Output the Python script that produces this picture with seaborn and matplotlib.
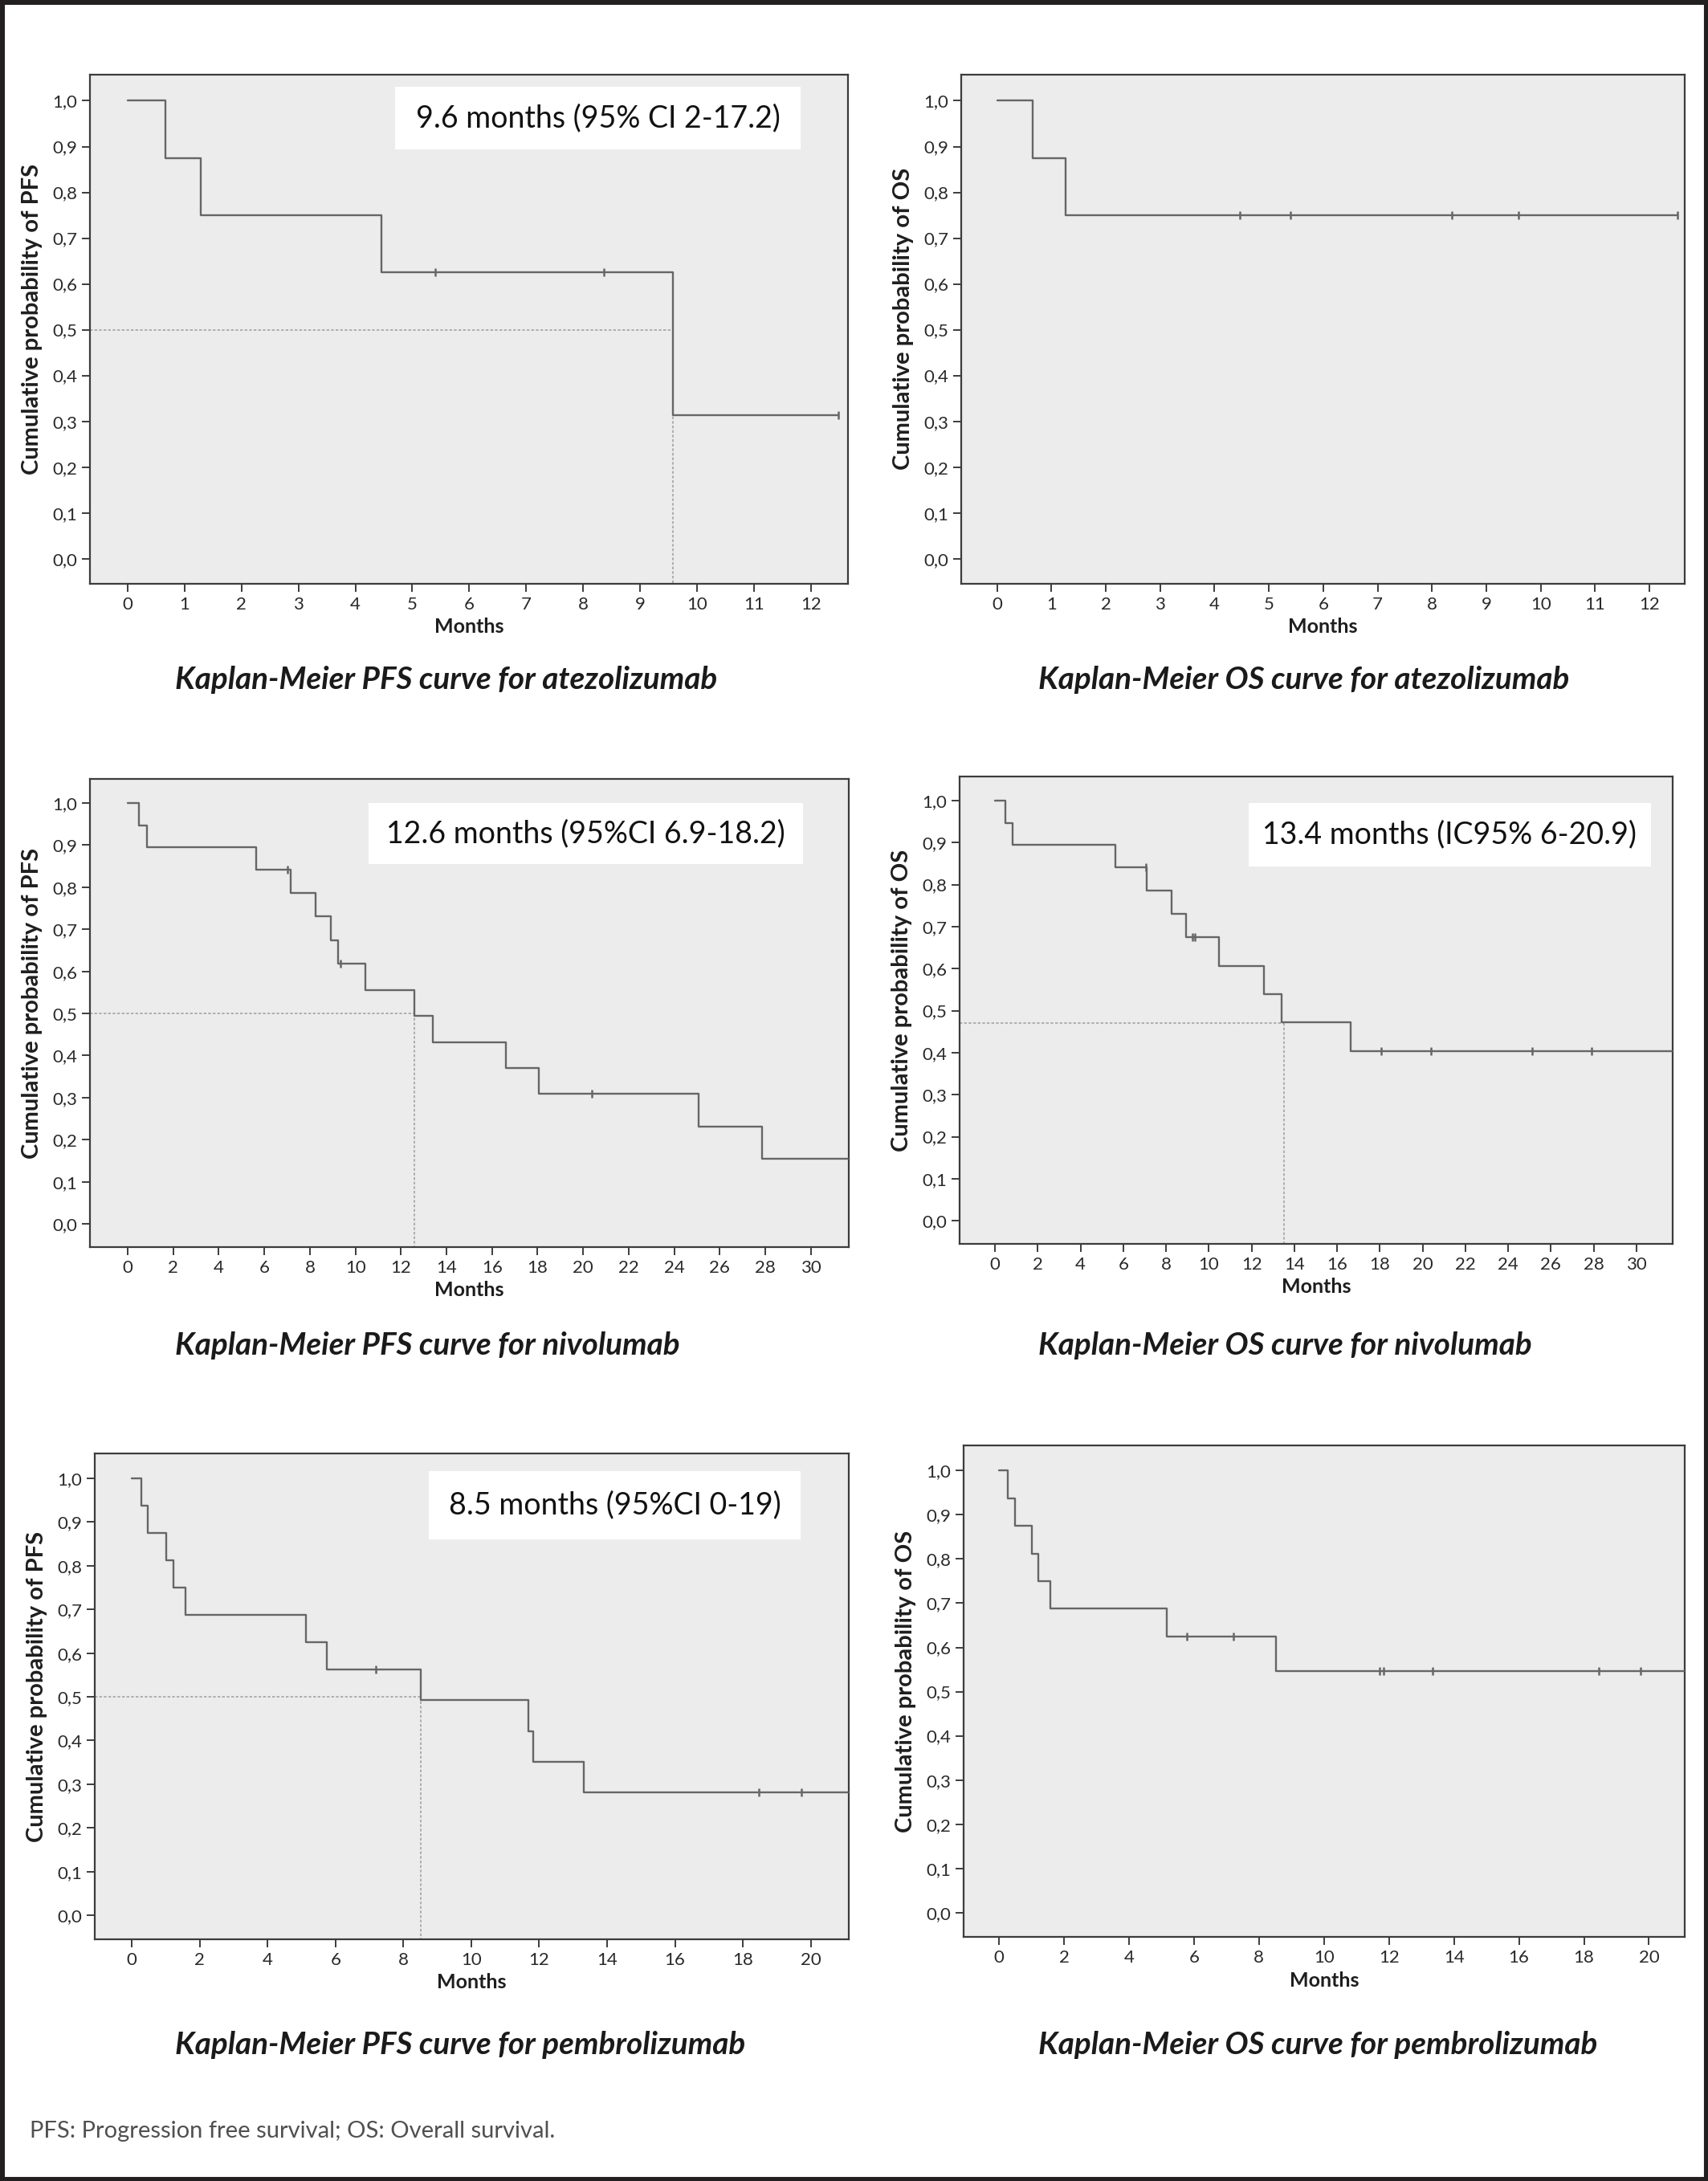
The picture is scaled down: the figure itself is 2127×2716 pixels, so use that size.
import matplotlib
matplotlib.use('Agg')
import matplotlib.pyplot as plt
from matplotlib.patches import Rectangle
import numpy as np
import pandas as pd
import seaborn as sns

# Datos (tiempo en meses, supervivencia acumulada)
y_ticks = [0.0, 0.1, 0.2, 0.3, 0.4, 0.5, 0.6, 0.7, 0.8, 0.9, 1.0]
y_tick_labels = ['0,0', '0,1', '0,2', '0,3', '0,4', '0,5', '0,6', '0,7', '0,8', '0,9', '1,0']

# atezolizumab
atezo_pfs_t = [0, 0.67, 1.28, 4.46, 9.58, 12.48]
atezo_pfs_s = [1.0, 0.875, 0.75, 0.625, 0.3125, 0.3125]
atezo_pfs_cens = [5.40, 8.36, 12.48]
atezo_pfs_median = 9.58

atezo_os_t = [0, 0.66, 1.26, 12.51]
atezo_os_s = [1.0, 0.875, 0.75, 0.75]
atezo_os_cens = [4.46, 5.40, 8.37, 9.59, 12.51]

# nivolumab
nivo_pfs_t = [0, 0.49, 0.85, 5.64, 7.14, 8.26, 8.91, 9.23, 10.44, 12.58, 13.41, 16.61, 18.05, 25.07, 27.86, 32.0]
nivo_pfs_s = [1.0, 0.947, 0.895, 0.842, 0.786, 0.730, 0.674, 0.618, 0.556, 0.494, 0.432, 0.371, 0.309, 0.232, 0.155, 0.155]
nivo_pfs_cens = [7.02, 9.33, 20.40]
nivo_pfs_median = 12.58

nivo_os_t = [0, 0.48, 0.83, 5.62, 7.10, 8.25, 8.93, 10.46, 12.59, 13.42, 16.65, 32.0]
nivo_os_s = [1.0, 0.947, 0.895, 0.842, 0.786, 0.730, 0.674, 0.607, 0.539, 0.472, 0.404, 0.404]
nivo_os_cens = [7.05, 9.23, 9.33, 18.06, 20.39, 25.11, 27.89]
nivo_os_median = 13.5
nivo_os_median_level = 0.471

# pembrolizumab
pembro_pfs_t = [0, 0.28, 0.47, 1.01, 1.22, 1.58, 5.13, 5.74, 8.52, 11.69, 11.83, 13.32, 21.5]
pembro_pfs_s = [1.0, 0.9375, 0.875, 0.8125, 0.75, 0.6875, 0.625, 0.5625, 0.492, 0.421, 0.351, 0.281, 0.281]
pembro_pfs_cens = [7.20, 18.47, 19.72]
pembro_pfs_median = 8.52

pembro_os_t = [0, 0.28, 0.50, 1.02, 1.22, 1.59, 5.16, 8.53, 21.5]
pembro_os_s = [1.0, 0.9375, 0.875, 0.8125, 0.75, 0.6875, 0.625, 0.547, 0.547]
pembro_os_cens = [5.77, 7.22, 11.72, 11.83, 13.34, 18.46, 19.75]

titles = [
    'Kaplan-Meier PFS curve for atezolizumab', 'Kaplan-Meier OS curve for atezolizumab',
    'Kaplan-Meier PFS curve for nivolumab', 'Kaplan-Meier OS curve for nivolumab',
    'Kaplan-Meier PFS curve for pembrolizumab', 'Kaplan-Meier OS curve for pembrolizumab',
]
notes = ['9.6 months (95% CI 2-17.2)', None, '12.6 months (95%CI 6.9-18.2)',
         '13.4 months (IC95% 6-20.9)', '8.5 months (95%CI 0-19)', None]
footnote = 'PFS: Progression free survival; OS: Overall survival.'

# Estilo
sns.set_theme(style='white')
plt.rcParams['font.family'] = ['Lato', 'DejaVu Sans']

W, H = 2127, 2716
line_col = '#666666'
dash_col = '#a3a3a3'
spine_col = '#3c3c3c'
ylim = (-0.055, 1.057)

fig = plt.figure(figsize=(W / 200, H / 200), dpi=200)
fig.patch.set_facecolor('white')


def px_axes(x0, y0, x1, y1):
    # caja en pixeles de la imagen -> fraccion de figura
    return fig.add_axes([x0 / W, 1 - y1 / H, (x1 - x0) / W, (y1 - y0) / H])


def draw_km(ax, t, s, cens, xlim, xticks, ylabel, median=None, level=0.5, note=None, note_box=None):
    ax.set_facecolor('#ececec')
    df = pd.DataFrame({'t': t, 's': s})
    sns.lineplot(data=df, x='t', y='s', drawstyle='steps-post', color=line_col,
                 linewidth=0.85, estimator=None, ax=ax, zorder=3)
    cy = [s[np.searchsorted(t, c, side='right') - 1] for c in cens]
    sns.scatterplot(x=cens, y=cy, marker='|', s=14, color=line_col, linewidth=0.9,
                    ax=ax, zorder=4)
    if median is not None:
        ax.plot([xlim[0], median], [level, level], color=dash_col, lw=0.6,
                dashes=(2, 1.4), zorder=2)
        ax.plot([median, median], [level, ylim[0]], color=dash_col, lw=0.6,
                dashes=(2, 1.4), zorder=2)
    ax.set_xlim(xlim)
    ax.set_ylim(ylim)
    ax.set_xticks(xticks)
    ax.set_xticklabels([str(v) for v in xticks])
    ax.set_yticks(y_ticks)
    ax.set_yticklabels(y_tick_labels)
    ax.tick_params(axis='both', which='major', direction='out', length=3.6, width=0.7,
                   color=spine_col, labelsize=8, labelcolor='#2a2a2a', pad=2)
    ax.tick_params(bottom=True, left=True)
    for sp in ax.spines.values():
        sp.set_color(spine_col)
        sp.set_linewidth(0.8)
    bb = ax.get_position()
    wpx, hpx = bb.width * W, bb.height * H
    ax.set_xlabel('Months', fontsize=9, fontweight='bold', color='#1e1e1e', va='center')
    ax.set_ylabel(ylabel, fontsize=10.5, fontweight='bold', color='#1e1e1e', va='center')
    ax.xaxis.set_label_coords(0.5, -54 / hpx)
    ax.yaxis.set_label_coords(-72 / wpx, 0.52)
    if note is not None:
        x0, x1, y0, y1 = note_box
        ax.add_patch(Rectangle((x0, y0), x1 - x0, y1 - y0, transform=ax.transAxes,
                               facecolor='white', edgecolor='none', zorder=5))
        ax.text((x0 + x1) / 2, (y0 + y1) / 2, note, transform=ax.transAxes, ha='center',
                va='center', fontsize=13.5, color='#111111', zorder=6)


ax1 = px_axes(112, 93, 1056, 727)
draw_km(ax1, atezo_pfs_t, atezo_pfs_s, atezo_pfs_cens, (-0.66, 12.65), list(range(0, 13)),
        'Cumulative probability of PFS', median=atezo_pfs_median, note=notes[0],
        note_box=(0.4025, 0.9375, 0.854, 0.976))

ax2 = px_axes(1197, 93, 2098, 727)
draw_km(ax2, atezo_os_t, atezo_os_s, atezo_os_cens, (-0.66, 12.65), list(range(0, 13)),
        'Cumulative probability of OS')

ax3 = px_axes(112, 970, 1057, 1553)
draw_km(ax3, nivo_pfs_t, nivo_pfs_s, nivo_pfs_cens, (-1.66, 31.67), list(range(0, 31, 2)),
        'Cumulative probability of PFS', median=nivo_pfs_median, note=notes[2],
        note_box=(0.367, 0.940, 0.818, 0.948))

ax4 = px_axes(1195, 967, 2083, 1549)
draw_km(ax4, nivo_os_t, nivo_os_s, nivo_os_cens, (-1.66, 31.7), list(range(0, 31, 2)),
        'Cumulative probability of OS', median=nivo_os_median, level=nivo_os_median_level,
        note=notes[3], note_box=(0.405, 0.970, 0.807, 0.943))

ax5 = px_axes(118, 1810, 1057, 2415)
draw_km(ax5, pembro_pfs_t, pembro_pfs_s, pembro_pfs_cens, (-1.09, 21.12), list(range(0, 21, 2)),
        'Cumulative probability of PFS', median=pembro_pfs_median, note=notes[4],
        note_box=(0.443, 0.936, 0.823, 0.964))

ax6 = px_axes(1200, 1800, 2098, 2412)
draw_km(ax6, pembro_os_t, pembro_os_s, pembro_os_cens, (-1.09, 21.1), list(range(0, 21, 2)),
        'Cumulative probability of OS')

# Titulos debajo de cada grafico (linea base en pixeles)
title_pos = [(218, 858), (1293, 858), (218, 1687), (1293, 1687), (218, 2558), (1293, 2558)]
for (tx, ty), tt in zip(title_pos, titles):
    fig.text(tx / W, 1 - ty / H, tt, ha='left', va='baseline', fontsize=13.9,
             fontweight='bold', fontstyle='italic', color='#1a1a1a')

fig.text(37 / W, 1 - 2662 / H, footnote, ha='left', va='baseline', fontsize=10.5,
         fontweight='normal', color='#505050')

# Marco exterior negro
fig.patches.append(Rectangle((0, 0), 1, 1, transform=fig.transFigure, fill=False,
                             edgecolor='#231f20', linewidth=4))

fig.savefig('out.png', dpi=200)
